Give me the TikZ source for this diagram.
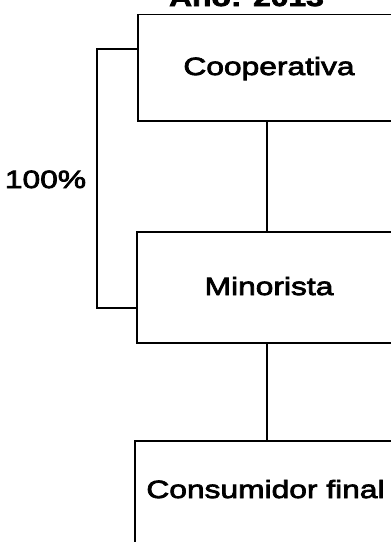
\documentclass[tikz,border=0pt]{standalone}
\usepackage{fontspec}
\setmainfont{Liberation Sans}[FakeStretch=1.27,FakeBold=3]
\begin{document}
\begin{tikzpicture}[x=1pt,y=-1pt,line width=1.8pt,
  box/.style={draw,inner sep=0pt},
  lbl/.style={anchor=base,inner sep=0pt,font=\fontsize{25}{30}\selectfont}]
\useasboundingbox (0,0) rectangle (391,542);
\clip (0,0) rectangle (391,542);
% channel stages
\node[box,minimum width=258pt,minimum height=106.5pt] (c1) at (267,67.75) {};
\node[box,minimum width=260pt,minimum height=111pt] (c2) at (267,287.5) {};
\node[box,minimum width=264pt,minimum height=110pt] (c3) at (267,496) {};
% stage names
\node[lbl] (t1) at (269,75) {Cooperativa};
\node[lbl] (t2) at (269,295) {Minorista};
\node[lbl] (t3) at (265.5,498) {Consumidor final};
\node[lbl,font=\fontsize{25}{30}\selectfont\bfseries] (title) at (246.5,6) {Año: 2013};
% flow between stages
\draw (c1.south) -- (c2.north);
\draw (c2.south) -- (c3.north);
% share bracket
\draw ([yshift=18.75pt]c1.west) -- ++(-40,0) coordinate (bk) |- ([yshift=-20.5pt]c2.west);
\node[lbl,anchor=base east] (pct) at (87,188) {100\%};
\end{tikzpicture}
\end{document}
